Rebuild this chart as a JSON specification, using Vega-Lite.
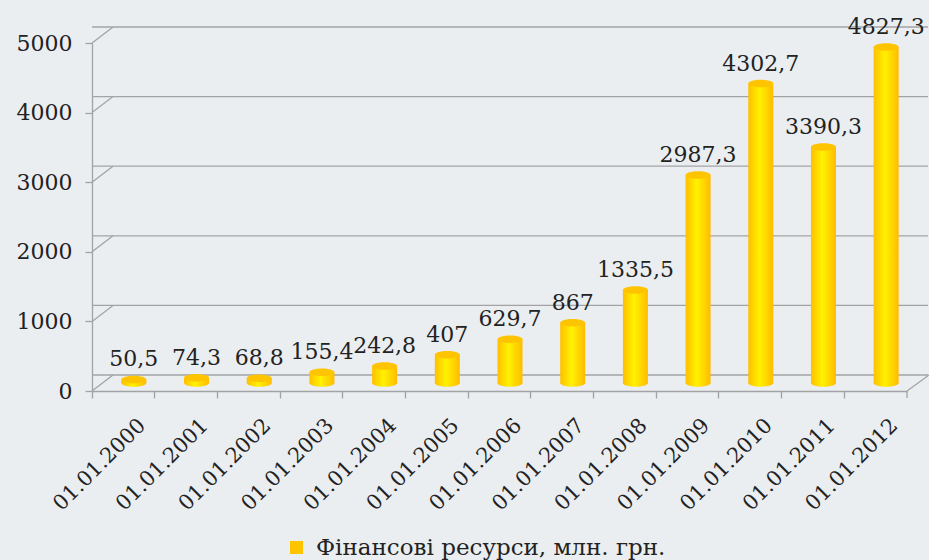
{
  "$schema": "https://vega.github.io/schema/vega-lite/v6.json",
  "width": 815,
  "height": 348,
  "autosize": {"type": "none"},
  "padding": {"left": 92, "top": 43, "right": 22, "bottom": 169},
  "background": "#eaeef1",
  "config": {
    "view": {"stroke": null},
    "font": "DejaVu Serif",
    "legend": {"labelFont": "DejaVu Serif"},
    "axis": {"labelFont": "DejaVu Serif"}
  },
  "datasets": {
    "bars": [
      {"date": "01.01.2000", "value": 50.5, "label": "50,5"},
      {"date": "01.01.2001", "value": 74.3, "label": "74,3"},
      {"date": "01.01.2002", "value": 68.8, "label": "68,8"},
      {"date": "01.01.2003", "value": 155.4, "label": "155,4"},
      {"date": "01.01.2004", "value": 242.8, "label": "242,8"},
      {"date": "01.01.2005", "value": 407, "label": "407"},
      {"date": "01.01.2006", "value": 629.7, "label": "629,7"},
      {"date": "01.01.2007", "value": 867, "label": "867"},
      {"date": "01.01.2008", "value": 1335.5, "label": "1335,5"},
      {"date": "01.01.2009", "value": 2987.3, "label": "2987,3"},
      {"date": "01.01.2010", "value": 4302.7, "label": "4302,7"},
      {"date": "01.01.2011", "value": 3390.3, "label": "3390,3"},
      {"date": "01.01.2012", "value": 4827.3, "label": "4827,3"}
    ],
    "grid": [{"v": 0}, {"v": 1000}, {"v": 2000}, {"v": 3000}, {"v": 4000}, {"v": 5000}]
  },
  "layer": [
    {
      "data": {"name": "grid"},
      "mark": {"type": "rule", "color": "#a3a3a3", "strokeWidth": 1.3, "xOffset": 21, "x2Offset": 23, "yOffset": -16},
      "encoding": {
        "y": {
          "field": "v", "type": "quantitative",
          "scale": {"domain": [0, 5000], "nice": false, "zero": true},
          "axis": {
            "title": null, "values": [0, 1000, 2000, 3000, 4000, 5000], "format": "d", "grid": false,
            "tickSize": 7, "tickColor": "#a3a3a3", "tickWidth": 1.3,
            "domainColor": "#a3a3a3", "domainWidth": 1.3,
            "labelPadding": 13, "labelFontSize": 22, "labelColor": "#222222"
          }
        }
      }
    },
    {
      "data": {"name": "grid"},
      "mark": {"type": "rule", "color": "#a3a3a3", "strokeWidth": 1.3, "x2Offset": 21, "y2Offset": -16},
      "encoding": {
        "x": {"datum": "01.01.2000", "type": "nominal", "bandPosition": 0},
        "x2": {"datum": "01.01.2000", "bandPosition": 0},
        "y": {"field": "v", "type": "quantitative"},
        "y2": {"field": "v"}
      }
    },
    {
      "data": {"name": "grid"},
      "transform": [{"filter": "datum.v == 0"}],
      "mark": {"type": "rule", "color": "#a3a3a3", "strokeWidth": 1.3, "x2Offset": 22, "y2Offset": -16},
      "encoding": {
        "x": {"datum": "01.01.2012", "type": "nominal", "bandPosition": 1},
        "x2": {"datum": "01.01.2012", "bandPosition": 1},
        "y": {"field": "v", "type": "quantitative"},
        "y2": {"field": "v"}
      }
    },
    {
      "data": {"name": "grid"},
      "transform": [{"filter": "datum.v == 0"}],
      "mark": {"type": "rule", "color": "#a3a3a3", "strokeWidth": 1.3, "y2Offset": 7},
      "encoding": {
        "x": {"datum": "01.01.2012", "type": "nominal", "bandPosition": 1},
        "y": {"field": "v", "type": "quantitative"},
        "y2": {"field": "v"}
      }
    },
    {
      "data": {"name": "bars"},
      "mark": {
        "type": "point", "shape": "M -1 0 A 1 0.3 0 1 0 1 0 A 1 0.3 0 1 0 -1 0 Z",
        "size": 625, "filled": true, "opacity": 1, "strokeWidth": 0,
        "xOffset": 10.5, "yOffset": -8,
        "fill": {"gradient": "linear", "x1": 0, "x2": 1, "y1": 0, "y2": 0,
          "stops": [{"offset": 0, "color": "#ffbf00"}, {"offset": 0.45, "color": "#fff200"}, {"offset": 1, "color": "#ffbb00"}]}
      },
      "encoding": {
        "x": {"field": "date", "type": "nominal", "sort": "ascending"},
        "y": {"datum": 0, "type": "quantitative"}
      }
    },
    {
      "data": {"name": "bars"},
      "mark": {
        "type": "bar", "width": 25, "xOffset": 10.5, "yOffset": -8, "y2Offset": -8,
        "fill": {"gradient": "linear", "x1": 0, "x2": 1, "y1": 0, "y2": 0,
          "stops": [{"offset": 0, "color": "#ffbf00"}, {"offset": 0.45, "color": "#fff200"}, {"offset": 1, "color": "#ffbb00"}]}
      },
      "encoding": {
        "x": {
          "field": "date", "type": "nominal", "sort": "ascending",
          "scale": {"paddingInner": 0, "paddingOuter": 0},
          "axis": {
            "title": null, "bandPosition": 0, "tickSize": 7, "tickColor": "#a3a3a3", "tickWidth": 1.3,
            "domainColor": "#a3a3a3", "domainWidth": 1.3,
            "labelAngle": -45, "labelAlign": "right", "labelBaseline": "middle",
            "labelOffset": 19, "labelPadding": 24, "labelFontSize": 21, "labelColor": "#222222"
          }
        },
        "y": {"field": "value", "type": "quantitative"}
      }
    },
    {
      "data": {"name": "bars"},
      "mark": {
        "type": "point", "shape": "M -1 0 A 1 0.3 0 1 0 1 0 A 1 0.3 0 1 0 -1 0 Z",
        "size": 625, "filled": true, "opacity": 1, "strokeWidth": 0,
        "xOffset": 10.5, "yOffset": -8
      },
      "encoding": {
        "x": {"field": "date", "type": "nominal", "sort": "ascending"},
        "y": {"field": "value", "type": "quantitative"},
        "color": {
          "datum": "Фінансові ресурси, млн. грн.",
          "scale": {"range": ["#ffc400"]},
          "legend": {
            "title": null, "orient": "none", "legendX": 193, "legendY": 493,
            "symbolType": "square", "symbolSize": 170, "symbolStrokeWidth": 0,
            "labelFontSize": 23, "labelColor": "#222222", "labelLimit": 600, "labelOffset": 8
          }
        }
      }
    },
    {
      "data": {"name": "bars"},
      "mark": {"type": "text", "xOffset": 10.5, "yOffset": -21, "baseline": "alphabetic", "fontSize": 22, "color": "#222222", "font": "DejaVu Serif"},
      "encoding": {
        "x": {"field": "date", "type": "nominal", "sort": "ascending"},
        "y": {"field": "value", "type": "quantitative"},
        "text": {"field": "label"}
      }
    }
  ]
}
